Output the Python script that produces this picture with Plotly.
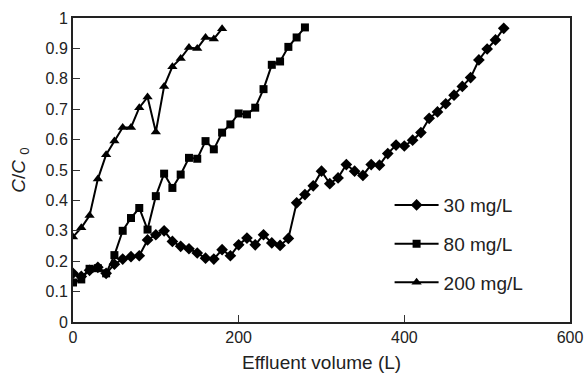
import plotly.graph_objects as go

# 30 mg/L
x30 = [0, 10, 20, 30, 40, 50, 60, 70, 80, 90, 100, 110, 120, 130, 140, 150, 160, 170,
       180, 190, 200, 210, 220, 230, 240, 250, 260, 270, 280, 290, 300, 310, 320, 330,
       340, 350, 360, 370, 380, 390, 400, 410, 420, 430, 440, 450, 460, 470, 480, 490,
       500, 510, 520]
y30 = [0.16, 0.15, 0.17, 0.18, 0.16, 0.19, 0.207, 0.215, 0.218, 0.27, 0.287, 0.30, 0.265,
       0.249, 0.241, 0.227, 0.21, 0.207, 0.238, 0.218, 0.254, 0.276, 0.254, 0.287, 0.26,
       0.252, 0.275, 0.392, 0.419, 0.448, 0.496, 0.455, 0.474, 0.518, 0.496, 0.482, 0.518,
       0.516, 0.554, 0.582, 0.579, 0.598, 0.623, 0.67, 0.691, 0.718, 0.746, 0.775, 0.804,
       0.862, 0.898, 0.928, 0.966]

# 80 mg/L
x80 = [0, 10, 20, 30, 40, 50, 60, 70, 80, 90, 100, 110, 120, 130, 140, 150, 160, 170,
       180, 190, 200, 210, 220, 230, 240, 250, 260, 270, 280]
y80 = [0.13, 0.14, 0.175, 0.177, 0.16, 0.22, 0.30, 0.342, 0.375, 0.304, 0.414, 0.488,
       0.441, 0.485, 0.54, 0.537, 0.595, 0.568, 0.623, 0.65, 0.686, 0.683, 0.705, 0.766,
       0.846, 0.857, 0.905, 0.936, 0.969]

# 200 mg/L
x200 = [0, 10, 20, 30, 40, 50, 60, 70, 80, 90, 100, 110, 120, 130, 140, 150, 160, 170, 180]
y200 = [0.28, 0.31, 0.35, 0.47, 0.55, 0.595, 0.64, 0.64, 0.705, 0.74, 0.625, 0.775, 0.84,
        0.867, 0.903, 0.90, 0.936, 0.931, 0.965]

names = ["30 mg/L", "80 mg/L", "200 mg/L"]
symbols = ["diamond", "square", "triangle-up"]
sizes = [9, 8, 9]
x_title = "Effluent volume (L)"
y_title = "<i>C</i>/<i>C</i> <sub>0</sub>"

fig = go.Figure()
for i, (xs, ys) in enumerate([(x30, y30), (x80, y80), (x200, y200)]):
    fig.add_trace(go.Scatter(
        x=xs, y=ys, mode="lines+markers", name=names[i],
        legendgroup=f"g{i}",
        line=dict(color="black", width=2),
        marker=dict(symbol=symbols[i], size=sizes[i], color="black"),
    ))

FAM = "Liberation Sans, Arial, sans-serif"
fig.update_layout(
    width=584, height=378,
    margin=dict(l=73, r=14, t=18, b=56),
    plot_bgcolor="white", paper_bgcolor="white",
    font=dict(family=FAM, size=17, color="#222"),
    showlegend=True,
    legend=dict(x=0.637, y=0.447, xanchor="left", yanchor="top",
                traceorder="grouped", tracegroupgap=11, itemwidth=44,
                font=dict(family=FAM, size=19, color="#222"),
                bgcolor="rgba(0,0,0,0)"),
    annotations=[dict(text=x_title, xref="paper", yref="paper", x=0.5, y=-0.132,
                      xanchor="center", yanchor="middle", showarrow=False,
                      font=dict(family=FAM, size=19, color="#222"))],
)
fig.update_xaxes(range=[0, 600], tickvals=[0, 200, 400, 600],
                 ticks="inside", ticklen=7, tickcolor="#333",
                 ticklabeloverflow="allow", automargin=False,
                 showline=True, linecolor="#222", linewidth=2, mirror=True,
                 showgrid=False, zeroline=False,
                 tickfont=dict(size=16))
fig.update_yaxes(range=[0, 1], dtick=0.1, tickformat="~g",
                 ticks="inside", ticklen=7, tickcolor="#333",
                 automargin=False,
                 showline=True, linecolor="#222", linewidth=2, mirror=True,
                 showgrid=False, zeroline=False,
                 title=dict(text=y_title, font=dict(size=19)),
                 tickfont=dict(size=16))

fig.write_html("out.html")
